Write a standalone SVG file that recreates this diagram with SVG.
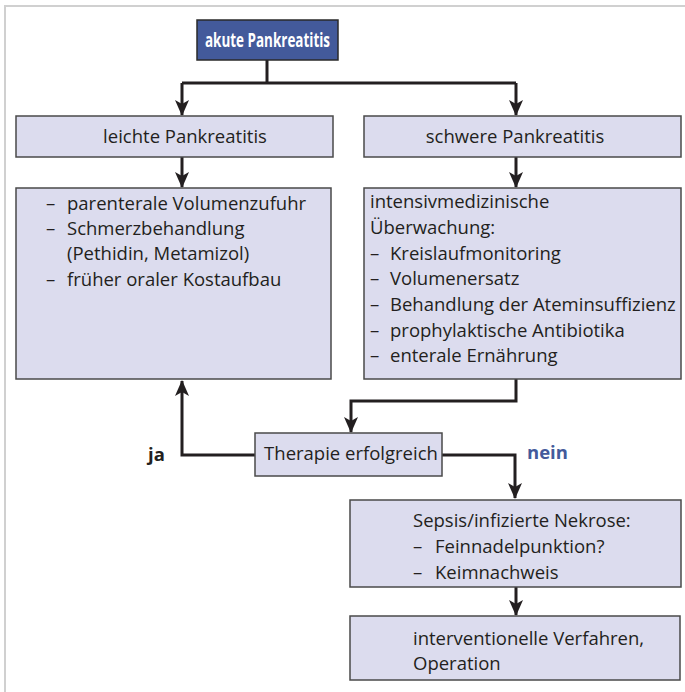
<svg xmlns="http://www.w3.org/2000/svg" width="685" height="692" viewBox="0 0 685 692">
<defs>
<marker id="ah" markerUnits="userSpaceOnUse" markerWidth="16" markerHeight="14" viewBox="0 0 16 14" refX="15" refY="7" orient="auto">
<path d="M0,0 L16,7 L0,14 L4,7 Z" fill="#231f20"/>
</marker>
</defs>
<style>
.frame{fill:none;stroke:#d0d0d0;stroke-width:2}
.box{fill:#dcdcee;stroke:#4a4a4a;stroke-width:1.5}
.top{fill:#435a9b;stroke:#2a2a2a;stroke-width:1.5}
.t{font-family:"Open Sans","Liberation Sans",sans-serif;font-size:18.5px;fill:#231f20}
.tw{font-family:"Open Sans","Liberation Sans",sans-serif;font-size:20px;font-weight:bold;fill:#ffffff}
.tb{font-family:"Open Sans","Liberation Sans",sans-serif;font-size:18.5px;font-weight:bold;fill:#231f20}
.tn{font-family:"Open Sans","Liberation Sans",sans-serif;font-size:18.5px;font-weight:bold;fill:#435a9b}
.c{fill:none;stroke:#231f20;stroke-width:3;marker-end:url(#ah)}
.cn{fill:none;stroke:#231f20;stroke-width:3}
</style>
<rect width="685" height="692" fill="#ffffff"/>
<path class="frame" d="M5,692 L5,6 L685,6"/>
<g id="connectors">
<path class="cn" d="M267,60 L267,83"/>
<path class="c" d="M182,83 L516,83 M182,83 L182,115"/>
<path class="c" d="M516,83 L516,115"/>
<path class="c" d="M182,157 L182,187"/>
<path class="c" d="M516,157 L516,187"/>
<path class="c" d="M516,379 L516,401 L351,401 L351,432"/>
<path class="c" d="M255,455 L182,455 L182,381"/>
<path class="c" d="M442,455 L515,455 L515,498"/>
<path class="c" d="M516,587 L516,615"/>
</g>
<g id="n_akut">
<rect class="top" x="197" y="20" width="141" height="40"/>
<text class="tw" x="267.5" y="47" text-anchor="middle" textLength="125" lengthAdjust="spacingAndGlyphs">akute Pankreatitis</text>
</g>
<g id="n_leicht">
<rect class="box" x="16" y="116" width="317" height="41"/>
<text class="t" x="185" y="143" text-anchor="middle">leichte Pankreatitis</text>
</g>
<g id="n_schwer">
<rect class="box" x="364" y="116" width="317" height="41"/>
<text class="t" x="515" y="143" text-anchor="middle">schwere Pankreatitis</text>
</g>
<g id="n_leicht_th">
<rect class="box" x="16" y="188" width="315" height="191"/>
<text class="t" x="46" y="210">–</text><text class="t" x="67" y="210">parenterale Volumenzufuhr</text>
<text class="t" x="46" y="235">–</text><text class="t" x="67" y="235">Schmerzbehandlung</text>
<text class="t" x="67" y="260">(Pethidin, Metamizol)</text>
<text class="t" x="46" y="286">–</text><text class="t" x="67" y="286">früher oraler Kostaufbau</text>
</g>
<g id="n_schwer_th">
<rect class="box" x="364" y="188" width="317" height="191"/>
<text class="t" x="370" y="208">intensivmedizinische</text>
<text class="t" x="370" y="234">Überwachung:</text>
<text class="t" x="370" y="260">–</text><text class="t" x="390" y="260">Kreislaufmonitoring</text>
<text class="t" x="370" y="285">–</text><text class="t" x="390" y="285">Volumenersatz</text>
<text class="t" x="370" y="311">–</text><text class="t" x="390" y="311">Behandlung der Ateminsuffizienz</text>
<text class="t" x="370" y="337">–</text><text class="t" x="390" y="337">prophylaktische Antibiotika</text>
<text class="t" x="370" y="362">–</text><text class="t" x="390" y="362">enterale Ernährung</text>
</g>
<g id="n_therapie">
<rect class="box" x="255" y="433" width="187" height="43"/>
<text class="t" x="351" y="460" text-anchor="middle">Therapie erfolgreich</text>
</g>
<text class="tb" x="148" y="461">ja</text>
<text class="tn" x="527" y="459">nein</text>
<g id="n_sepsis">
<rect class="box" x="350" y="500" width="331" height="87"/>
<text class="t" x="413" y="527">Sepsis/infizierte Nekrose:</text>
<text class="t" x="413" y="553">–</text><text class="t" x="435" y="553">Feinnadelpunktion?</text>
<text class="t" x="413" y="579">–</text><text class="t" x="435" y="579">Keimnachweis</text>
</g>
<g id="n_op">
<rect class="box" x="350" y="616" width="330" height="64"/>
<text class="t" x="413" y="645">interventionelle Verfahren,</text>
<text class="t" x="413" y="670">Operation</text>
</g>
</svg>
